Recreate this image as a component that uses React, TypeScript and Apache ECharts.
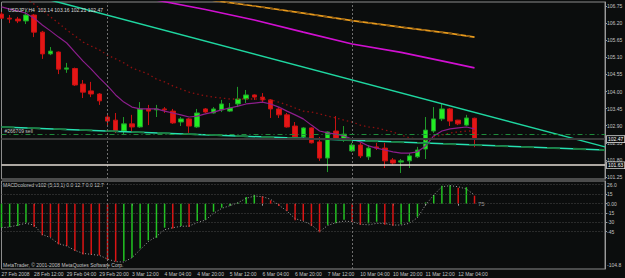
import React, { useEffect, useRef } from 'react';
import * as echarts from 'echarts';

// ---- data ----
const times: string[] = [
  '27 Feb 20:00',
  '28 Feb 00:00', '28 Feb 04:00', '28 Feb 08:00', '28 Feb 12:00', '28 Feb 16:00', '28 Feb 20:00',
  '29 Feb 00:00', '29 Feb 04:00', '29 Feb 08:00', '29 Feb 12:00', '29 Feb 16:00', '29 Feb 20:00',
  '3 Mar 00:00', '3 Mar 04:00', '3 Mar 08:00', '3 Mar 12:00', '3 Mar 16:00', '3 Mar 20:00',
  '4 Mar 00:00', '4 Mar 04:00', '4 Mar 08:00', '4 Mar 12:00', '4 Mar 16:00', '4 Mar 20:00',
  '5 Mar 00:00', '5 Mar 04:00', '5 Mar 08:00', '5 Mar 12:00', '5 Mar 16:00', '5 Mar 20:00',
  '6 Mar 00:00', '6 Mar 04:00', '6 Mar 08:00', '6 Mar 12:00', '6 Mar 16:00', '6 Mar 20:00',
  '7 Mar 00:00', '7 Mar 04:00', '7 Mar 08:00', '7 Mar 12:00', '7 Mar 16:00', '7 Mar 20:00',
  '10 Mar 00:00', '10 Mar 04:00', '10 Mar 08:00', '10 Mar 12:00', '10 Mar 16:00', '10 Mar 20:00',
  '11 Mar 00:00', '11 Mar 04:00', '11 Mar 08:00', '11 Mar 12:00', '11 Mar 16:00', '11 Mar 20:00',
  '12 Mar 00:00', '12 Mar 04:00', '12 Mar 08:00', '12 Mar 12:00',
];
const firstLabel = '27 Feb 2008';
const futureSlots = 16;

// [open, high, low, close]
const ohlc: [number, number, number, number][] = [
  [106.49, 106.56, 106.33, 106.36], [106.36, 106.46, 106.20, 106.33], [106.33, 106.40, 106.20, 106.27],
  [106.27, 106.62, 106.17, 106.46], [106.46, 106.49, 105.75, 105.91], [105.91, 105.95, 105.05, 105.21],
  [105.21, 105.43, 105.17, 105.30], [105.27, 105.29, 104.56, 104.72], [104.72, 104.92, 104.60, 104.76],
  [104.74, 104.77, 104.18, 104.21], [104.24, 104.37, 103.79, 103.98], [104.02, 104.31, 103.82, 103.92],
  [103.92, 103.95, 103.57, 103.70], [103.18, 103.31, 102.86, 103.05], [103.08, 103.31, 102.67, 102.73],
  [102.73, 103.18, 102.60, 102.96], [102.96, 103.25, 102.70, 102.86], [102.86, 103.66, 102.83, 103.44],
  [103.44, 103.57, 102.92, 103.37], [103.41, 103.57, 103.18, 103.44], [103.44, 103.50, 103.31, 103.41],
  [103.37, 103.44, 102.96, 102.99], [103.02, 103.18, 102.89, 103.12], [103.12, 103.15, 102.67, 102.89],
  [102.86, 103.44, 102.83, 103.31], [103.44, 103.47, 103.31, 103.34], [103.31, 103.50, 103.29, 103.44],
  [103.41, 103.73, 103.34, 103.60], [103.37, 103.63, 103.34, 103.47], [103.60, 104.15, 103.50, 103.76],
  [103.76, 104.05, 103.63, 103.89], [103.89, 103.91, 103.73, 103.82], [103.82, 103.95, 103.63, 103.73],
  [103.73, 103.76, 103.15, 103.44], [103.44, 103.50, 103.15, 103.25], [103.25, 103.31, 102.84, 102.86],
  [102.89, 103.02, 102.51, 102.54], [102.54, 102.86, 102.51, 102.83], [102.83, 102.85, 102.33, 102.35],
  [102.38, 102.54, 101.77, 101.86], [101.86, 102.72, 101.41, 102.70], [102.73, 103.21, 102.44, 102.47],
  [102.44, 102.89, 102.38, 102.63], [102.09, 102.35, 102.06, 102.28], [102.28, 102.35, 101.86, 101.93],
  [101.90, 102.28, 101.80, 102.18], [102.22, 102.35, 102.12, 102.18], [102.18, 102.35, 101.54, 101.77],
  [101.80, 101.86, 101.64, 101.70], [101.73, 101.83, 101.38, 101.77], [101.77, 102.02, 101.54, 101.93],
  [101.90, 102.22, 101.86, 102.12], [102.15, 103.18, 101.83, 102.76], [102.73, 103.50, 102.67, 103.12],
  [103.12, 103.63, 103.05, 103.44], [103.44, 103.47, 102.89, 103.05], [103.08, 103.09, 102.92, 102.96],
  [102.92, 103.25, 102.89, 103.15], [103.14, 103.16, 102.21, 102.47],
];

const purpleMA: number[] = [
  106.72, 106.65, 106.59, 106.52, 106.36, 106.14, 105.95, 105.75, 105.56, 105.27,
  104.98, 104.72, 104.44, 104.18, 103.89, 103.66, 103.50, 103.44, 103.44, 103.44,
  103.37, 103.31, 103.25, 103.18, 103.21, 103.28, 103.34, 103.41, 103.47, 103.53,
  103.60, 103.63, 103.66, 103.60, 103.50, 103.37, 103.25, 103.12, 102.92, 102.73,
  102.67, 102.63, 102.57, 102.47, 102.38, 102.25, 102.18, 102.12, 102.06, 102.02,
  102.02, 102.06, 102.25, 102.57, 102.73, 102.80, 102.83, 102.86, 102.80,
];
const maroonMA: (number | null)[] = [
  null, null, null, 107.0, 106.81, 106.62, 106.40, 106.20, 105.98, 105.79,
  105.59, 105.46, 105.34, 105.17, 105.05, 104.92, 104.76, 104.66, 104.56, 104.40,
  104.31, 104.18, 104.08, 103.98, 103.92, 103.86, 103.82, 103.79, 103.76, 103.76,
  103.76, 103.76, 103.76, 103.73, 103.66, 103.57, 103.47, 103.37, 103.34, 103.28,
  103.21, 103.15, 103.08, 103.02, 102.92, 102.86, 102.83, 102.76, 102.70, 102.60,
  102.51, 102.47, 102.44, 102.54, 102.60, 102.67, 102.70, 102.73, 102.73,
];
// [bar index, price]
const magentaMA: [number, number][] = [
  [15, 107.17], [19, 106.94], [25, 106.64], [31, 106.30], [37, 105.91], [43, 105.53], [49, 105.26], [55, 104.93], [58, 104.76],
];
const orangeMA: [number, number][] = [
  [22, 107.10], [26, 106.93], [31, 106.75], [37, 106.52], [43, 106.28], [49, 106.07], [55, 105.87], [58, 105.75],
];
const upperTrend: [number, number][] = [[6, 106.94], [74, 102.22]];
const lowerTrend: [number, number][] = [[0, 102.86], [74, 102.12]];

const bidPrice = 102.47;
const whiteLevel = 101.63;
const orderLevel = 102.63;
const orderText = '#266709 sell';
const weekSeparators = [13, 43];

const priceTicks = [106.75, 106.2, 105.65, 105.1, 104.55, 104.0, 103.45, 102.9, 102.35, 101.8, 101.25];
const macdTicks = [15, 0, -15, -30, -45];
const macdGridLevels = [31, 15, 0, -15, -30, -45];
const macdMaxLabel = '26.0';
const macdMinLabel = '-104.8';

const macdHist: number[] = [
  -38.6, -37.5, -35.9, -30.5, -37.5, -50.9, -53.6, -65.4, -68, -76,
  -81.5, -82, -83, -91, -93, -92, -87, -72, -59, -55,
  -38.6, -40, -36, -37.5, -28, -26, -13, -6.4, -2.7, 1.5,
  10.7, 14, 11.8, 5.4, -3.8, -11.8, -26.8, -27.5, -36, -46,
  -34, -31.6, -26, -29, -34, -31.6, -29, -34, -35.4, -33,
  -29, -21, 2, 14, 29, 29.5, 25.7, 26.5, 12.9,
];
const macdSignal: number[] = [
  -38.6, -37.5, -34.3, -31.6, -34.3, -49.3, -54.7, -64.3, -68, -75,
  -79.8, -81.5, -83, -89, -93.2, -93.8, -86.8, -74, -61, -52.5,
  -41.8, -38.6, -36.4, -35.9, -30.5, -26.3, -15.5, -7.5, -3.2, 1.6,
  8.6, 12.3, 11.3, 7, -2.1, -11.8, -24, -28, -34, -45,
  -35, -30.5, -27.9, -29, -33, -34, -31.6, -31.6, -34.3, -34.3,
  -31.6, -22.5, -2.1, 13.9, 27.3, 29, 27.3, 23.6, 13.9,
];

const titleText = 'USDJPY,H4  103.14 103.16 102.21 102.47';
const macdTitle = 'MACDcolored v102 (5,13,1) 0.0 12.7 0.0 12.7';
const footerText = 'MetaTrader, \u00a9 2001-2008 MetaQuotes Software Corp.';
const noteText = '75';

// ---- style ----
const BG = '#0b0d0d';
const FONT = 'Liberation Sans, Arial, sans-serif';
const TXT = '#c4c4c4';

export default function App() {
  const ref = useRef<HTMLDivElement>(null);

  useEffect(() => {
    if (!ref.current) return;
    const chart = echarts.init(ref.current, undefined, { renderer: 'svg' });

    const cats = [...times, ...Array.from({ length: futureSlots }, (_, i) => `f${i}`)];
    const candleData = ohlc.map(([o, h, l, c]) => [o, c, l, h]);
    const showLabel = (i: number) => i === 0 || (i >= 4 && i % 4 === 0 && i < times.length);
    const histData = macdHist.map((v, i) => ({
      value: v,
      itemStyle: { color: i === 0 || v >= macdHist[i - 1] ? '#22c422' : '#dc1414' },
    }));

    const option: any = {
      animation: false,
      backgroundColor: BG,
      title: {
        text: titleText,
        left: 3,
        top: 2,
        textStyle: { color: '#d8d8d8', fontSize: 5, fontWeight: 'normal', fontFamily: FONT },
      },
      grid: [
        { left: 1.5, right: 20, top: 2, height: 177, show: true, borderColor: '#8c8c8c', borderWidth: 1, containLabel: false, outerBoundsMode: 'none' },
        { left: 1.5, right: 20, top: 181, height: 88, show: true, borderColor: '#8c8c8c', borderWidth: 1, containLabel: false, outerBoundsMode: 'none' },
      ],
      xAxis: [
        {
          type: 'category', gridIndex: 0, data: cats, boundaryGap: false,
          axisLine: { show: false }, axisTick: { show: false }, axisLabel: { show: false }, splitLine: { show: false },
        },
        {
          type: 'category', gridIndex: 1, data: cats, boundaryGap: false,
          axisLine: { show: false },
          axisTick: { show: true, interval: showLabel, length: 2, lineStyle: { color: '#9a9a9a' } },
          axisLabel: {
            interval: showLabel, align: 'left', fontSize: 5, color: TXT, margin: 2, fontFamily: FONT,
            formatter: (v: string, i: number) => (i === 0 ? firstLabel : v),
          },
          splitLine: { show: false },
        },
      ],
      yAxis: [
        {
          type: 'value', gridIndex: 0, position: 'right', min: 101.187, max: 106.879, scale: true,
          axisLine: { show: true, lineStyle: { color: '#9a9a9a' } },
          axisTick: { show: true, length: 2, customValues: priceTicks, lineStyle: { color: '#9a9a9a' } },
          axisLabel: {
            customValues: priceTicks, formatter: (v: number) => v.toFixed(2),
            fontSize: 5, color: TXT, margin: 2, fontFamily: FONT,
          },
          splitLine: { show: false },
        },
        {
          type: 'value', gridIndex: 1, position: 'right', min: -105, max: 36.5,
          axisLine: { show: true, lineStyle: { color: '#9a9a9a' } },
          axisTick: { show: true, length: 2, customValues: macdTicks, lineStyle: { color: '#9a9a9a' } },
          axisLabel: {
            customValues: macdTicks, formatter: (v: number) => (v === 0 ? '0.00' : String(v)),
            fontSize: 5, color: TXT, margin: 2, fontFamily: FONT,
          },
          splitLine: { show: false },
        },
      ],
      graphic: [
        { type: 'text', left: 3, top: 182, style: { text: macdTitle, fill: TXT, fontSize: 5, fontFamily: FONT } },
        { type: 'text', left: 3, top: 262, style: { text: footerText, fill: TXT, fontSize: 5, fontFamily: FONT } },
        { type: 'text', left: 607, top: 182, style: { text: macdMaxLabel, fill: TXT, fontSize: 5, fontFamily: FONT } },
        { type: 'text', left: 607, top: 262, style: { text: macdMinLabel, fill: TXT, fontSize: 5, fontFamily: FONT } },
        { type: 'text', left: 478, top: 201, style: { text: noteText, fill: '#9a9a9a', fontSize: 6, fontFamily: FONT } },
      ],
      series: [
        {
          type: 'candlestick', xAxisIndex: 0, yAxisIndex: 0, data: candleData, barWidth: 5,
          itemStyle: { color: '#22ee22', color0: '#e41616', borderColor: '#1f9a2a', borderColor0: '#c81212', borderWidth: 1 },
          markLine: {
            silent: true, symbol: ['none', 'none'], animation: false,
            label: { show: false },
            data: [
              ...weekSeparators.map((k) => ({ xAxis: k, lineStyle: { color: '#6e6e6e', type: [2, 2], width: 1 } })),
              {
                yAxis: orderLevel, lineStyle: { color: '#1e8a3a', type: [5, 3, 1, 3], width: 1 },
                label: { show: true, position: 'insideStartTop', distance: [3, 1], formatter: orderText, fontSize: 5, color: TXT, fontFamily: FONT },
              },
              {
                yAxis: bidPrice, lineStyle: { color: '#3a3a3a', type: 'solid', width: 2 },
                label: {
                  show: true, position: 'end', distance: 2, formatter: bidPrice.toFixed(2), fontSize: 5, color: '#ffffff', fontFamily: FONT,
                  backgroundColor: BG, borderColor: '#d0d0d0', borderWidth: 0.8, padding: [1, 1, 0, 1],
                },
              },
              {
                yAxis: whiteLevel, lineStyle: { color: '#e4dcd4', type: 'solid', width: 1.5 },
                label: {
                  show: true, position: 'end', distance: 2, formatter: whiteLevel.toFixed(2), fontSize: 5, color: '#ffffff', fontFamily: FONT,
                  backgroundColor: BG, borderColor: '#d0d0d0', borderWidth: 0.8, padding: [1, 1, 0, 1],
                },
              },
            ],
          },
        },
        { type: 'line', xAxisIndex: 0, yAxisIndex: 0, data: purpleMA, symbol: 'none', lineStyle: { color: '#8c1e8c', width: 1.2 } },
        { type: 'line', xAxisIndex: 0, yAxisIndex: 0, data: maroonMA, symbol: 'none', lineStyle: { color: '#8e1010', width: 1.3, type: [1.5, 3] } },
        { type: 'line', xAxisIndex: 0, yAxisIndex: 0, data: magentaMA, symbol: 'none', lineStyle: { color: '#d010d0', width: 1.6 } },
        { type: 'line', xAxisIndex: 0, yAxisIndex: 0, data: orangeMA, symbol: 'none', lineStyle: { color: '#e89a1c', width: 1.6 } },
        { type: 'line', xAxisIndex: 0, yAxisIndex: 0, data: orangeMA, symbol: 'none', lineStyle: { color: '#8a5a14', width: 1.6, type: [4, 5] } },
        { type: 'line', xAxisIndex: 0, yAxisIndex: 0, data: upperTrend, symbol: 'none', lineStyle: { color: '#1fd6a0', width: 1.5 } },
        { type: 'line', xAxisIndex: 0, yAxisIndex: 0, data: lowerTrend, symbol: 'none', lineStyle: { color: '#26e0b0', width: 1.5 } },
        { type: 'line', xAxisIndex: 0, yAxisIndex: 0, data: lowerTrend, symbol: 'none', lineStyle: { color: '#1c7a40', width: 1.8, type: [13, 13], dashOffset: -26 } },
        {
          type: 'bar', xAxisIndex: 1, yAxisIndex: 1, data: histData, barWidth: 1.5,
          markLine: {
            silent: true, symbol: ['none', 'none'], animation: false, label: { show: false },
            data: [
              ...macdGridLevels.map((v) => ({ yAxis: v, lineStyle: { color: '#4a4a4a', type: [1, 2], width: 1 } })),
              ...weekSeparators.map((k) => ({ xAxis: k, lineStyle: { color: '#6e6e6e', type: [2, 2], width: 1 } })),
            ],
          },
        },
        { type: 'line', xAxisIndex: 1, yAxisIndex: 1, data: macdSignal, symbol: 'none', lineStyle: { color: '#9c9c9c', width: 1, type: [1, 2] } },
      ],
    };

    chart.setOption(option);
    return () => chart.dispose();
  }, []);

  return (
    <div
      ref={ref}
      style={{ position: 'fixed', left: 0, top: 0, width: 625, height: 278, background: BG }}
    />
  );
}
